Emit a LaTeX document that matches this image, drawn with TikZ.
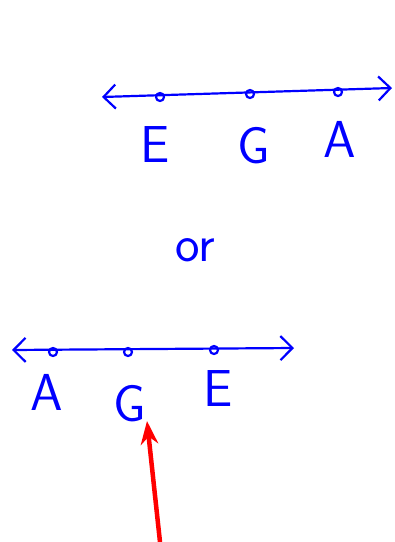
\documentclass[tikz,border=0pt]{standalone}
\usepackage{tikz}
\usetikzlibrary{arrows.meta, positioning}

\begin{document}
\begin{tikzpicture}[x=1pt,y=-1pt,>=Stealth,
    line/.style={draw=blue,line width=2.2pt,{Straight Barb[length=12pt,width=24pt]}-{Straight Barb[length=12pt,width=24pt]}},
    pt/.style={circle,draw=blue,line width=2.2pt,inner sep=0pt,minimum size=8pt},
    lbl/.style={text=blue,font=\sffamily\fontsize{52}{52}\selectfont,inner sep=0pt}]
      \useasboundingbox (0,0) rectangle (395,542);
      % first ordering
      \coordinate (l1) at (102,97);
      \coordinate (r1) at (392,88);
      \draw[line] (l1) -- (r1);
      \node[pt] (e1) at (160,97) {};
      \node[pt] (g1) at (250,94) {};
      \node[pt] (a1) at (338,92) {};
      \node[lbl] (E1) at (155,145) {E};
      \node[lbl] (G1) at (254,146) {G};
      \node[lbl] (A1) at (340,139) {A};
      \node[lbl] (or) at (195,250) {or};
      % second ordering
      \coordinate (l2) at (12,350);
      \coordinate (r2) at (294,348);
      \draw[line] (l2) -- (r2);
      \node[pt] (a2) at (53,352) {};
      \node[pt] (g2) at (128,352) {};
      \node[pt] (e2) at (214,350) {};
      \node[lbl] (A2) at (47,392) {A};
      \node[lbl] (G2) at (130,404) {G};
      \node[lbl] (E2) at (218,389) {E};
      % pointer
      \coordinate (p) at (160,542);
      \coordinate (tip) at (147,421);
      \draw[->,red,line width=4.5pt] (p) -- (tip);
    \end{tikzpicture}
\end{document}
